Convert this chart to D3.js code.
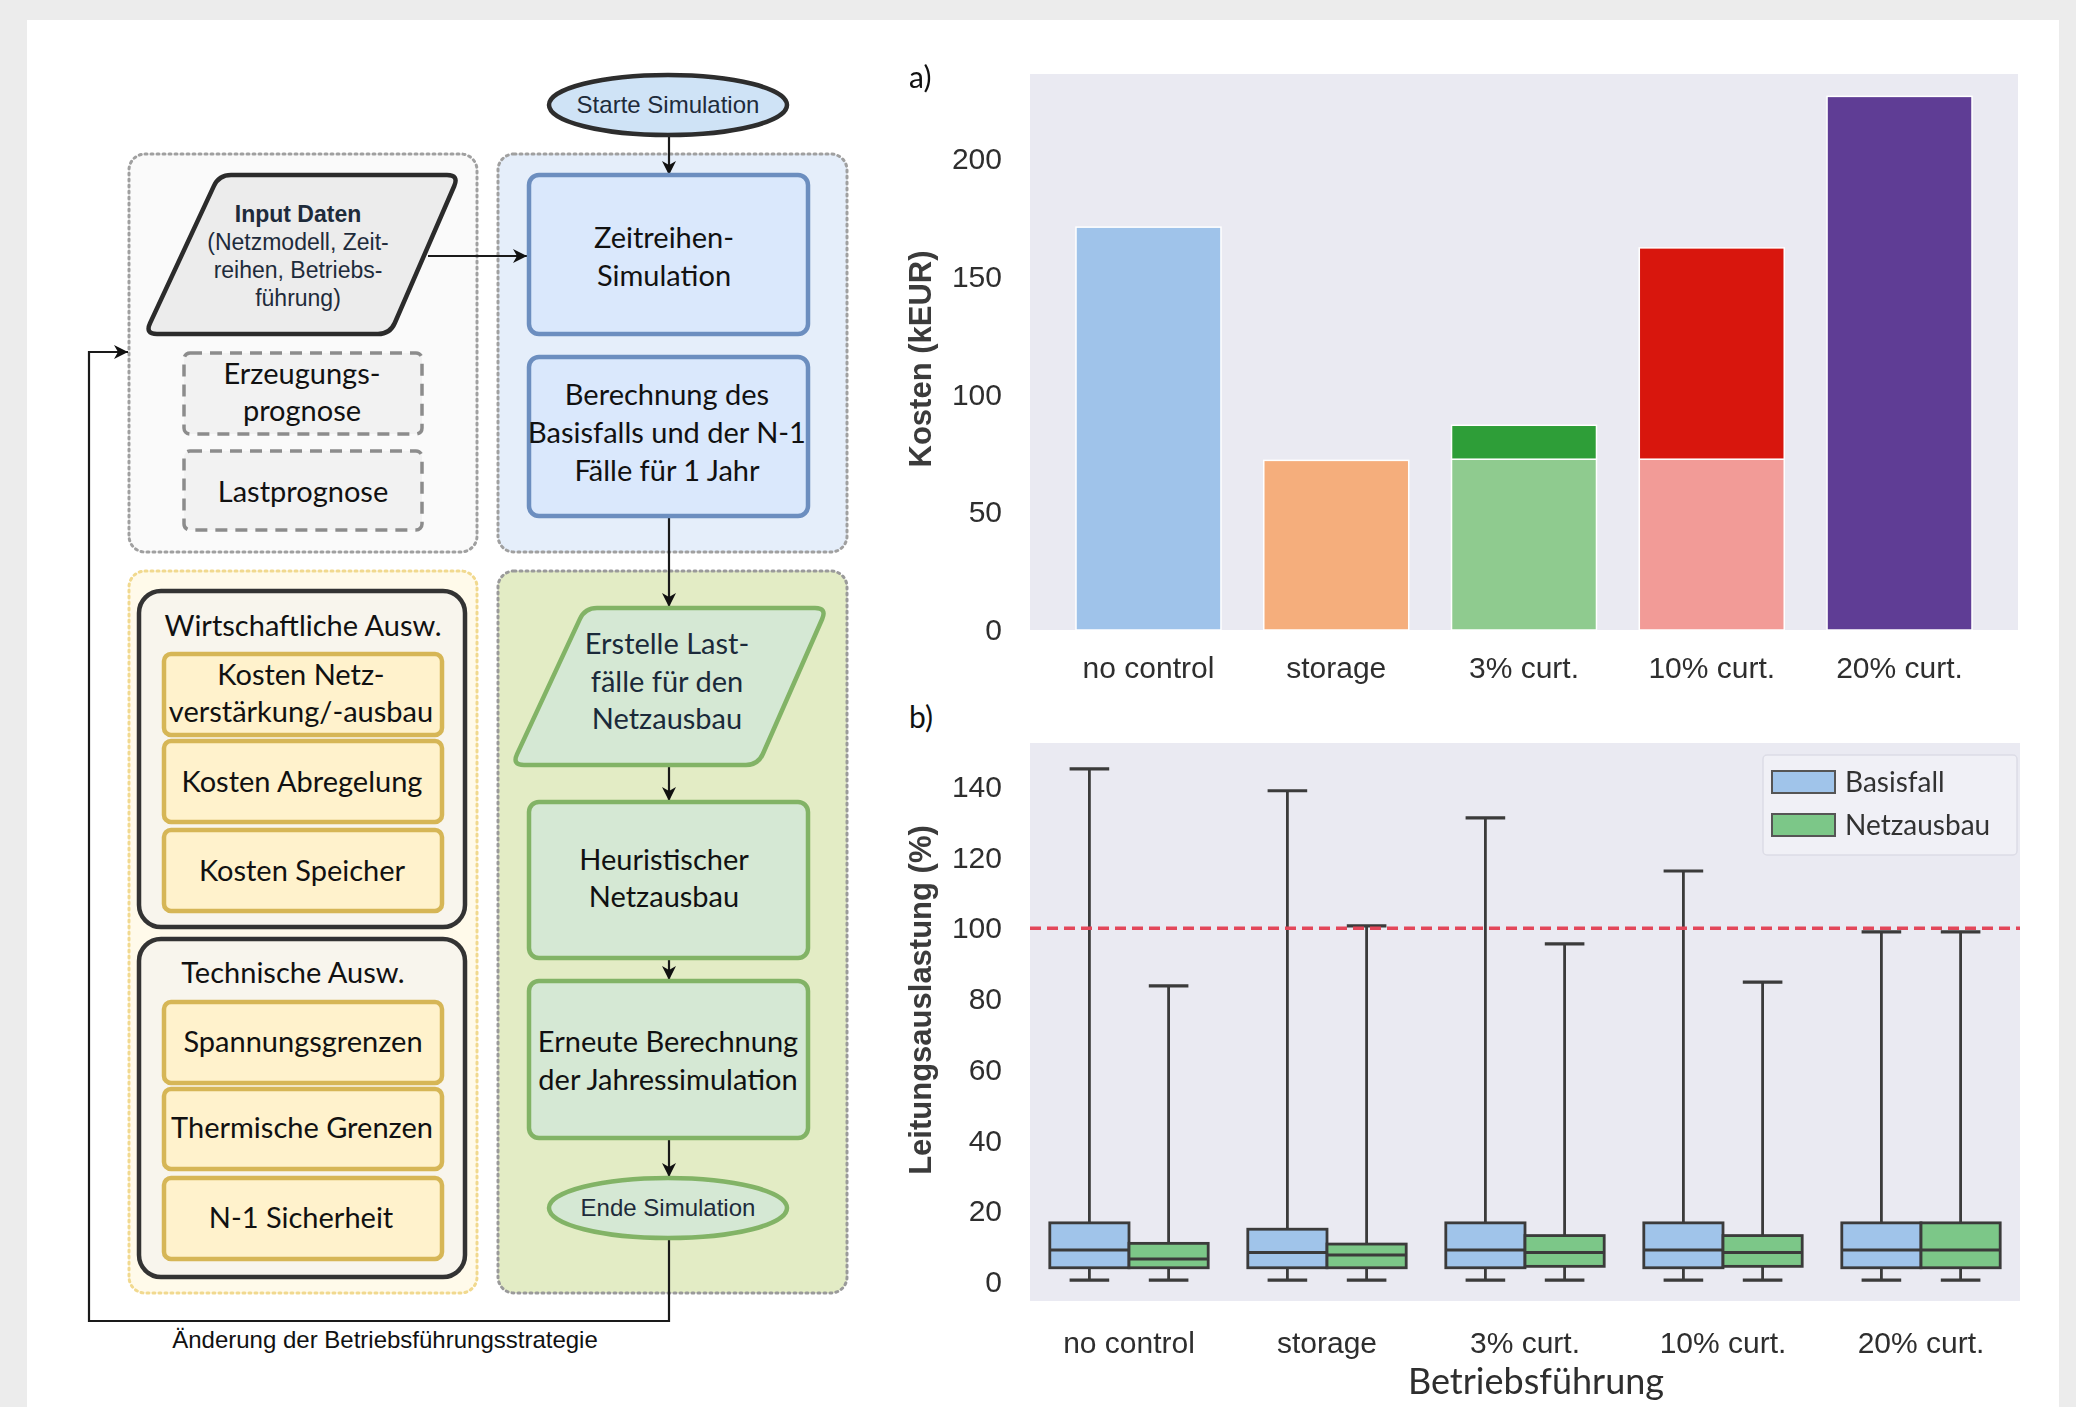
<!DOCTYPE html>
<html>
<head>
<meta charset="utf-8">
<script src="https://cdn.jsdelivr.net/npm/d3@7"></script>
<style>
  body { margin: 0; background: #ececec; }
  svg { display: block; }
</style>
</head>
<body>
<svg id="fig" width="2076" height="1407"></svg>
<script>
// ---------- chart data ----------
const categories = ["no control", "storage", "3% curt.", "10% curt.", "20% curt."];

// a) costs in kEUR: lower (light) segment and stacked upper (dark) segment
const costLower = [171, 72, 72.5, 72.5, 0];
const costUpper = [0, 0, 14.4, 89.7, 226.5];
const costTicks = [0, 50, 100, 150, 200];

// b) line loading (%) box statistics per operating strategy
const seriesNames = ["Basisfall", "Netzausbau"];
const basisMin    = [0.5, 0.5, 0.5, 0.5, 0.5];
const basisQ1     = [4.0, 4.0, 4.0, 4.0, 4.0];
const basisMedian = [9.0, 8.3, 9.0, 9.0, 9.0];
const basisQ3     = [16.7, 14.9, 16.7, 16.7, 16.7];
const basisMax    = [145.1, 138.9, 131.2, 116.2, 99.0];
const netzMin     = [0.5, 0.5, 0.5, 0.5, 0.5];
const netzQ1      = [4.0, 4.0, 4.4, 4.4, 4.0];
const netzMedian  = [6.5, 7.6, 8.3, 8.3, 9.0];
const netzQ3      = [10.9, 10.7, 13.1, 13.1, 16.7];
const netzMax     = [83.7, 100.7, 95.6, 84.8, 99.0];
const loadTicks   = [0, 20, 40, 60, 80, 100, 120, 140];
const loadLimit   = 100;

// ---------- styles ----------
const lowerColors = ["#9fc3ea", "#f5ae7c", "#8fcb8f", "#f29b97", "#5f3d95"];
const upperColors = ["#9fc3ea", "#f5ae7c", "#2f9e37", "#d8160f", "#5f3d95"];
const seriesColors = ["#a0c4ea", "#7cc788"];
const CAL = "Lato, 'Open Sans', sans-serif";
const ARIAL = "'Liberation Sans', Arial, sans-serif";

const svg = d3.select("#fig");
const defs = svg.append("defs");
defs.append("marker")
  .attr("id", "arrow").attr("markerUnits", "userSpaceOnUse")
  .attr("markerWidth", 16).attr("markerHeight", 14)
  .attr("refX", 14).attr("refY", 7).attr("orient", "auto")
  .append("path").attr("d", "M0,0 L14,7 L0,14 L4,7 Z").attr("fill", "#111");
defs.append("filter").attr("id", "soft")
  .append("feGaussianBlur").attr("stdDeviation", 0.7);

// page background and white panel
svg.append("rect").attr("width", 2076).attr("height", 1407).attr("fill", "#ececec");
svg.append("rect").attr("x", 27).attr("y", 20).attr("width", 2032).attr("height", 1387).attr("fill", "#ffffff");

// ---------- flow diagram ----------
const flow = svg.append("g");

function roundedPath(pts, r) {
  const n = pts.length;
  let d = "";
  for (let i = 0; i < n; i++) {
    const p0 = pts[(i - 1 + n) % n], p1 = pts[i], p2 = pts[(i + 1) % n];
    const v1 = [p0[0] - p1[0], p0[1] - p1[1]], v2 = [p2[0] - p1[0], p2[1] - p1[1]];
    const l1 = Math.hypot(v1[0], v1[1]), l2 = Math.hypot(v2[0], v2[1]);
    const a = [p1[0] + v1[0] / l1 * r, p1[1] + v1[1] / l1 * r];
    const b = [p1[0] + v2[0] / l2 * r, p1[1] + v2[1] / l2 * r];
    d += (i === 0 ? "M" : "L") + a[0] + "," + a[1] + " Q" + p1[0] + "," + p1[1] + " " + b[0] + "," + b[1] + " ";
  }
  return d + "Z";
}

function label(x, baselines, lines, opts = {}) {
  const t = flow.append("text")
    .attr("text-anchor", "middle")
    .attr("font-family", opts.font || CAL)
    .attr("font-size", opts.size || 29)
    .attr("fill", opts.color || "#111");
  lines.forEach((ln, i) => {
    t.append("tspan").attr("x", x).attr("y", baselines[i])
      .attr("font-weight", (opts.boldFirst && i === 0) ? "bold" : "normal")
      .text(ln);
  });
}

function box(x, y, w, h, fill, stroke, sw, rx, dash) {
  const r = flow.append("rect").attr("x", x).attr("y", y).attr("width", w).attr("height", h)
    .attr("rx", rx).attr("fill", fill).attr("stroke", stroke).attr("stroke-width", sw);
  if (dash) r.attr("stroke-dasharray", dash);
  return r;
}

// dotted swimlane containers
box(129, 154, 348, 398, "#fafafa", "#a0a0a0", 3, 16, "2,4").attr("stroke-linecap", "round");
box(498, 154, 349, 398, "#e5eefa", "#a0a0a0", 3, 16, "2,4").attr("stroke-linecap", "round");
box(129, 571, 348, 722, "#fffaea", "#f1d98f", 3, 16, "2,4").attr("stroke-linecap", "round");
box(498, 571, 349, 722, "#e3ecc5", "#9a9a9a", 3, 16, "2,4").attr("stroke-linecap", "round");

// connectors
function arrow(points, head = true) {
  const p = flow.append("path").attr("d", d3.line()(points))
    .attr("fill", "none").attr("stroke", "#1a1a1a").attr("stroke-width", 2.2);
  if (head) p.attr("marker-end", "url(#arrow)");
}
arrow([[669, 137], [669, 175]]);
arrow([[428, 256], [527, 256]]);
arrow([[669, 516], [669, 607]]);
arrow([[669, 766], [669, 801]]);
arrow([[669, 959], [669, 980]]);
arrow([[669, 1139], [669, 1177]]);
arrow([[669, 1240], [669, 1321], [89, 1321], [89, 352], [128, 352]]);

// start / end terminators
flow.append("ellipse").attr("cx", 668).attr("cy", 105).attr("rx", 119).attr("ry", 30)
  .attr("fill", "#cfe3f6").attr("stroke", "#2d2d2d").attr("stroke-width", 4.5);
label(668, [113], ["Starte Simulation"], { font: ARIAL, size: 24, color: "#1e2b3b" });

flow.append("ellipse").attr("cx", 668).attr("cy", 1208).attr("rx", 119).attr("ry", 30)
  .attr("fill", "#d5e8d4").attr("stroke", "#82b366").attr("stroke-width", 4.5);
label(668, [1216], ["Ende Simulation"], { font: ARIAL, size: 24, color: "#1e2b3b" });

// input data (parallelogram)
flow.append("path").attr("d", roundedPath([[219, 175], [459, 175], [390, 334], [145, 334]], 12))
  .attr("fill", "#ececec").attr("stroke", "#2b2b2b").attr("stroke-width", 4.5);
label(298, [222, 250, 278, 306], ["Input Daten", "(Netzmodell, Zeit-", "reihen, Betriebs-", "führung)"],
  { font: ARIAL, size: 23, color: "#1e2b3b", boldFirst: true });

// forecasts (dashed)
box(184, 353, 238, 81, "#f2f2f2", "#8c8c8c", 3.5, 6, "12,8");
label(302, [384, 421], ["Erzeugungs-", "prognose"]);
box(184, 451, 238, 79, "#f2f2f2", "#8c8c8c", 3.5, 6, "12,8");
label(303, [502], ["Lastprognose"]);

// simulation steps (blue)
box(529, 175, 279, 159, "#dae8fc", "#6c8ebf", 4.5, 10);
label(664, [248, 286], ["Zeitreihen-", "Simulation"]);
box(529, 357, 279, 159, "#dae8fc", "#6c8ebf", 4.5, 10);
label(667, [405, 443, 481], ["Berechnung des", "Basisfalls und der N-1", "Fälle für 1 Jahr"]);

// grid expansion steps (green)
flow.append("path").attr("d", roundedPath([[585, 608], [827, 608], [758, 765], [512, 765]], 12))
  .attr("fill", "#d5e8d4").attr("stroke", "#82b366").attr("stroke-width", 4.5);
label(667, [654, 692, 729], ["Erstelle Last-", "fälle für den", "Netzausbau"], { color: "#1b2a3a" });
box(529, 802, 279, 156, "#d5e8d4", "#82b366", 4.5, 10);
label(664, [870, 907], ["Heuristischer", "Netzausbau"]);
box(529, 981, 279, 157, "#d5e8d4", "#82b366", 4.5, 10);
label(668, [1052, 1090], ["Erneute Berechnung", "der Jahressimulation"]);

// evaluation groups
box(139, 591, 326, 336, "#f8f5ed", "#333333", 4.5, 22);
label(303, [636], ["Wirtschaftliche Ausw."]);
box(164, 654, 278, 81, "#fff2cc", "#d6b656", 4.5, 7);
label(301, [685, 722], ["Kosten Netz-", "verstärkung/-ausbau"]);
box(164, 741, 278, 81, "#fff2cc", "#d6b656", 4.5, 7);
label(302, [792], ["Kosten Abregelung"]);
box(164, 830, 278, 81, "#fff2cc", "#d6b656", 4.5, 7);
label(302, [881], ["Kosten Speicher"]);

box(139, 939, 326, 338, "#f8f5ed", "#333333", 4.5, 22);
label(293, [983], ["Technische Ausw."]);
box(164, 1002, 278, 81, "#fff2cc", "#d6b656", 4.5, 7);
label(303, [1052], ["Spannungsgrenzen"]);
box(164, 1089, 278, 80, "#fff2cc", "#d6b656", 4.5, 7);
label(302, [1138], ["Thermische Grenzen"]);
box(164, 1178, 278, 81, "#fff2cc", "#d6b656", 4.5, 7);
label(301, [1228], ["N-1 Sicherheit"]);

label(385, [1348], ["Änderung der Betriebsführungsstrategie"], { font: ARIAL, size: 24, color: "#111" });

// ---------- chart a) costs ----------
const ga = svg.append("g").attr("filter", "url(#soft)");
const xA = d3.scaleBand().domain(categories).range([1030, 2018]).paddingInner(0.228).paddingOuter(0.245);
const yA = d3.scaleLinear().domain([0, 236]).range([630, 74]);

ga.append("rect").attr("x", 1030).attr("y", yA(236)).attr("width", 988).attr("height", yA(0) - yA(236))
  .attr("fill", "#eaeaf2");

categories.forEach((c, i) => {
  if (costLower[i] > 0) {
    ga.append("rect").attr("x", xA(c)).attr("width", xA.bandwidth())
      .attr("y", yA(costLower[i])).attr("height", yA(0) - yA(costLower[i]))
      .attr("fill", lowerColors[i]).attr("stroke", "#ffffff").attr("stroke-width", 1.5);
  }
  if (costUpper[i] > 0) {
    ga.append("rect").attr("x", xA(c)).attr("width", xA.bandwidth())
      .attr("y", yA(costLower[i] + costUpper[i])).attr("height", yA(costLower[i]) - yA(costLower[i] + costUpper[i]))
      .attr("fill", upperColors[i]).attr("stroke", "#ffffff").attr("stroke-width", 1.5);
  }
});

const axA = ga.append("g").attr("transform", "translate(1030,0)")
  .call(d3.axisLeft(yA).tickValues(costTicks).tickSize(0).tickPadding(28));
axA.select(".domain").remove();
axA.selectAll("text").attr("font-family", ARIAL).attr("font-size", 30).attr("fill", "#2e2e2e");

const axAx = ga.append("g").attr("transform", "translate(0,630)")
  .call(d3.axisBottom(xA).tickSize(0));
axAx.select(".domain").remove();
axAx.selectAll("text").attr("font-family", ARIAL).attr("font-size", 30).attr("fill", "#2e2e2e")
  .attr("y", 48).attr("dy", 0);

ga.append("text").attr("transform", "translate(931,359) rotate(-90)")
  .attr("text-anchor", "middle").attr("font-family", ARIAL).attr("font-weight", "bold")
  .attr("font-size", 31).attr("fill", "#3a3a3a").text("Kosten (kEUR)");

svg.append("text").attr("x", 909).attr("y", 88).attr("font-family", CAL).attr("font-size", 30)
  .attr("fill", "#111").text("a)");

// ---------- chart b) line loading ----------
const gb = svg.append("g").attr("filter", "url(#soft)");
const xB = d3.scaleBand().domain(categories).range([1030, 2020]);
const xS = d3.scaleBand().domain(seriesNames).range([0.1 * xB.bandwidth(), 0.9 * xB.bandwidth()]);
const yB = d3.scaleLinear().domain([-5.4, 152.4]).range([1301, 743]);

gb.append("rect").attr("x", 1030).attr("y", yB(152.4)).attr("width", 990).attr("height", yB(-5.4) - yB(152.4))
  .attr("fill", "#eaeaf2");

const stats = [
  { min: basisMin, q1: basisQ1, med: basisMedian, q3: basisQ3, max: basisMax },
  { min: netzMin, q1: netzQ1, med: netzMedian, q3: netzQ3, max: netzMax }
];
const edge = "#3a3a3a";
categories.forEach((c, i) => {
  seriesNames.forEach((s, k) => {
    const st = stats[k];
    const x0 = xB(c) + xS(s), w = xS.bandwidth(), cx = x0 + w / 2;
    const g = gb.append("g").attr("stroke", edge);
    g.append("line").attr("x1", cx).attr("x2", cx).attr("y1", yB(st.q3[i])).attr("y2", yB(st.max[i])).attr("stroke-width", 2.8);
    g.append("line").attr("x1", cx).attr("x2", cx).attr("y1", yB(st.q1[i])).attr("y2", yB(st.min[i])).attr("stroke-width", 2.8);
    g.append("line").attr("x1", cx - w / 4).attr("x2", cx + w / 4).attr("y1", yB(st.max[i])).attr("y2", yB(st.max[i])).attr("stroke-width", 3.2);
    g.append("line").attr("x1", cx - w / 4).attr("x2", cx + w / 4).attr("y1", yB(st.min[i])).attr("y2", yB(st.min[i])).attr("stroke-width", 3.2);
    g.append("rect").attr("x", x0).attr("width", w).attr("y", yB(st.q3[i])).attr("height", yB(st.q1[i]) - yB(st.q3[i]))
      .attr("fill", seriesColors[k]).attr("stroke-width", 2.8);
    g.append("line").attr("x1", x0).attr("x2", x0 + w).attr("y1", yB(st.med[i])).attr("y2", yB(st.med[i])).attr("stroke-width", 3);
  });
});

gb.append("line").attr("x1", 1030).attr("x2", 2020).attr("y1", yB(loadLimit)).attr("y2", yB(loadLimit))
  .attr("stroke", "#e3475a").attr("stroke-width", 3.5).attr("stroke-dasharray", "11,6");

const axB = gb.append("g").attr("transform", "translate(1030,0)")
  .call(d3.axisLeft(yB).tickValues(loadTicks).tickSize(0).tickPadding(28));
axB.select(".domain").remove();
axB.selectAll("text").attr("font-family", ARIAL).attr("font-size", 30).attr("fill", "#2e2e2e");

const axBx = gb.append("g").attr("transform", "translate(0,1301)")
  .call(d3.axisBottom(xB).tickSize(0));
axBx.select(".domain").remove();
axBx.selectAll("text").attr("font-family", ARIAL).attr("font-size", 30).attr("fill", "#2e2e2e")
  .attr("y", 52).attr("dy", 0);

gb.append("text").attr("transform", "translate(931,1000) rotate(-90)")
  .attr("text-anchor", "middle").attr("font-family", ARIAL).attr("font-weight", "bold")
  .attr("font-size", 31).attr("fill", "#3a3a3a").text("Leitungsauslastung (%)");

gb.append("text").attr("x", 1536).attr("y", 1394).attr("text-anchor", "middle")
  .attr("font-family", CAL).attr("font-size", 36).attr("fill", "#2e2e2e").text("Betriebsführung");

// legend
const lg = gb.append("g");
lg.append("rect").attr("x", 1763).attr("y", 755).attr("width", 254).attr("height", 100)
  .attr("fill", "#f0f0f6").attr("stroke", "#dcdce6").attr("stroke-width", 1.5).attr("rx", 4);
seriesNames.forEach((s, k) => {
  lg.append("rect").attr("x", 1772).attr("y", 771 + k * 43).attr("width", 63).attr("height", 22)
    .attr("fill", seriesColors[k]).attr("stroke", "#555").attr("stroke-width", 2);
  lg.append("text").attr("x", 1845).attr("y", 792 + k * 43).attr("font-family", CAL)
    .attr("font-size", 28).attr("fill", "#333").text(s);
});

svg.append("text").attr("x", 909).attr("y", 728).attr("font-family", CAL).attr("font-size", 30)
  .attr("fill", "#111").text("b)");
</script>
</body>
</html>
